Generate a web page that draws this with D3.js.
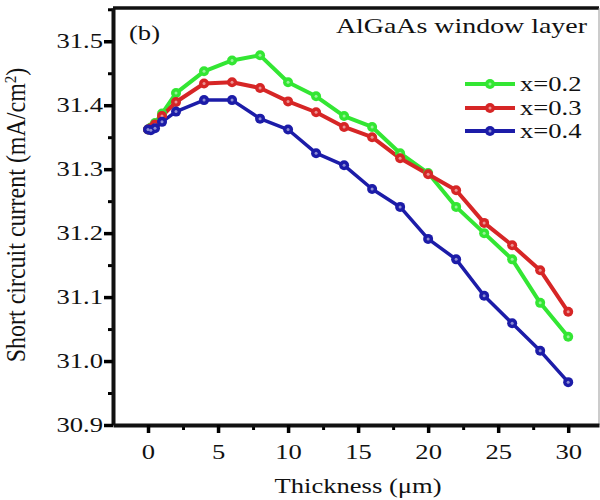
<!DOCTYPE html>
<html>
<head>
<meta charset="utf-8">
<script src="https://cdn.jsdelivr.net/npm/d3@7"></script>
<style>
  body { margin: 0; background: #fff; }
  text { font-family: "Liberation Serif", "Times New Roman", serif; fill: #111; }
</style>
</head>
<body>
<svg id="chart" width="600" height="500"></svg>
<script>
// thickness of the window layer (um)
var thickness = [0, 0.2, 0.5, 1, 2, 4, 6, 8, 10, 12, 14, 16, 18, 20, 22, 24, 26, 28, 30];

// short circuit current (mA/cm2) for each Al fraction
var jscX02 = [31.362, 31.365, 31.372, 31.387, 31.419, 31.453, 31.470, 31.478, 31.436, 31.414, 31.383, 31.366, 31.325, 31.294, 31.241, 31.200, 31.159, 31.091, 31.038];
var jscX03 = [31.362, 31.364, 31.370, 31.383, 31.405, 31.434, 31.436, 31.427, 31.406, 31.389, 31.366, 31.350, 31.317, 31.292, 31.267, 31.216, 31.181, 31.142, 31.077];
var jscX04 = [31.362, 31.361, 31.364, 31.374, 31.390, 31.408, 31.408, 31.379, 31.362, 31.325, 31.306, 31.269, 31.241, 31.191, 31.159, 31.102, 31.059, 31.016, 30.967];

var seriesNames = ['x=0.2', 'x=0.3', 'x=0.4'];
var xTicks = [0, 5, 10, 15, 20, 25, 30];
var yTicks = [30.9, 31.0, 31.1, 31.2, 31.3, 31.4, 31.5];

var colors = ['#33e633', '#d62626', '#1c1ca8'];
var series = [jscX02, jscX03, jscX04];

var svg = d3.select('#chart');
var SX = 1.33; // text in the figure is stretched horizontally

// plot box (px)
var pLeft = 113, pRight = 599, pTop = 8, pBottom = 425;

var x = d3.scaleLinear().domain([-2.5, 32.2]).range([pLeft, pRight]);
var y = d3.scaleLinear().domain([30.9, 31.552]).range([pBottom, pTop]);

// frame: thick top, thin grey right
svg.append('line')
  .attr('x1', pLeft).attr('x2', pRight).attr('y1', pTop).attr('y2', pTop)
  .attr('stroke', '#111').attr('stroke-width', 3.5);
svg.append('line')
  .attr('x1', pRight).attr('x2', pRight).attr('y1', pTop).attr('y2', pBottom)
  .attr('stroke', '#999').attr('stroke-width', 1);

// minor ticks
var xMinor = d3.range(2.5, 30, 5);
var yMinor = d3.range(30.95, 31.55, 0.1);

svg.append('g')
  .attr('transform', 'translate(0,' + pBottom + ')')
  .call(d3.axisBottom(x).tickValues(xMinor).tickSize(5).tickFormat(''))
  .call(g => g.select('.domain').remove())
  .selectAll('line').attr('stroke-width', 3);

svg.append('g')
  .attr('transform', 'translate(' + pLeft + ',0)')
  .call(d3.axisLeft(y).tickValues(yMinor).tickSize(5).tickFormat(''))
  .call(g => g.select('.domain').remove())
  .selectAll('line').attr('stroke-width', 3);

// major axes
var xAxis = svg.append('g')
  .attr('transform', 'translate(0,' + pBottom + ')')
  .call(d3.axisBottom(x).tickValues(xTicks).tickSize(8).tickSizeOuter(0).tickPadding(12));
xAxis.select('.domain').attr('stroke-width', 4).attr('stroke', '#111');
xAxis.selectAll('.tick line').attr('stroke-width', 3.5);
xAxis.selectAll('.tick text')
  .attr('font-size', 20)
  .attr('font-family', '"Liberation Serif", serif')
  .attr('fill', '#222')
  .attr('transform', 'scale(' + SX + ',1)');

var yAxis = svg.append('g')
  .attr('transform', 'translate(' + pLeft + ',0)')
  .call(d3.axisLeft(y).tickValues(yTicks).tickSize(9).tickSizeOuter(0).tickPadding(1).tickFormat(d3.format('.1f')));
yAxis.select('.domain').attr('stroke-width', 4).attr('stroke', '#111');
yAxis.selectAll('.tick line').attr('stroke-width', 3.5);
yAxis.selectAll('.tick text')
  .attr('font-size', 20)
  .attr('font-family', '"Liberation Serif", serif')
  .attr('fill', '#222')
  .attr('x', -10 / SX)
  .attr('transform', 'scale(' + SX + ',1)');

// lines and markers
var line = d3.line()
  .x((d, i) => x(thickness[i]))
  .y(d => y(d));

series.forEach(function (vals, k) {
  svg.append('path')
    .datum(vals)
    .attr('d', line)
    .attr('fill', 'none')
    .attr('stroke', colors[k])
    .attr('stroke-width', k === 2 ? 3.5 : 4)
    .attr('stroke-linejoin', 'round');
});

series.forEach(function (vals, k) {
  var g = svg.append('g');
  g.selectAll('circle.m')
    .data(vals)
    .enter()
    .append('circle')
    .attr('class', 'm')
    .attr('cx', (d, i) => x(thickness[i]))
    .attr('cy', d => y(d))
    .attr('r', 5)
    .attr('fill', colors[k]);
  g.selectAll('circle.c')
    .data(vals)
    .enter()
    .append('circle')
    .attr('class', 'c')
    .attr('cx', (d, i) => x(thickness[i]))
    .attr('cy', d => y(d))
    .attr('r', 1.5)
    .attr('fill', '#fff')
    .attr('opacity', 0.5);
});

// stretched text helper
function label(txt, px, py, size, anchor) {
  return svg.append('text')
    .attr('transform', 'translate(' + px + ',' + py + ') scale(' + SX + ',1)')
    .attr('font-size', size)
    .attr('text-anchor', anchor || 'start')
    .text(txt);
}

label('(b)', 129, 40, 20);
label('AlGaAs window layer', 587, 33, 21, 'end');

// legend
var legY = [84, 108, 131];
seriesNames.forEach(function (name, k) {
  svg.append('line')
    .attr('x1', 465).attr('x2', 515)
    .attr('y1', legY[k]).attr('y2', legY[k])
    .attr('stroke', colors[k]).attr('stroke-width', 4);
  svg.append('circle')
    .attr('cx', 490).attr('cy', legY[k]).attr('r', 5)
    .attr('fill', colors[k]);
  svg.append('circle')
    .attr('cx', 490).attr('cy', legY[k]).attr('r', 1.5)
    .attr('fill', '#fff').attr('opacity', 0.5);
  label(name, 520, legY[k] + 7, 20);
});

// axis titles
label('Thickness (\u03bcm)', 358, 493, 20, 'middle');

svg.append('text')
  .attr('transform', 'translate(25,215) rotate(-90) scale(1,1.15)')
  .attr('font-size', 24)
  .attr('text-anchor', 'middle')
  .html('Short circuit current (mA/cm<tspan baseline-shift="super" font-size="15">2</tspan>)');
</script>
</body>
</html>
